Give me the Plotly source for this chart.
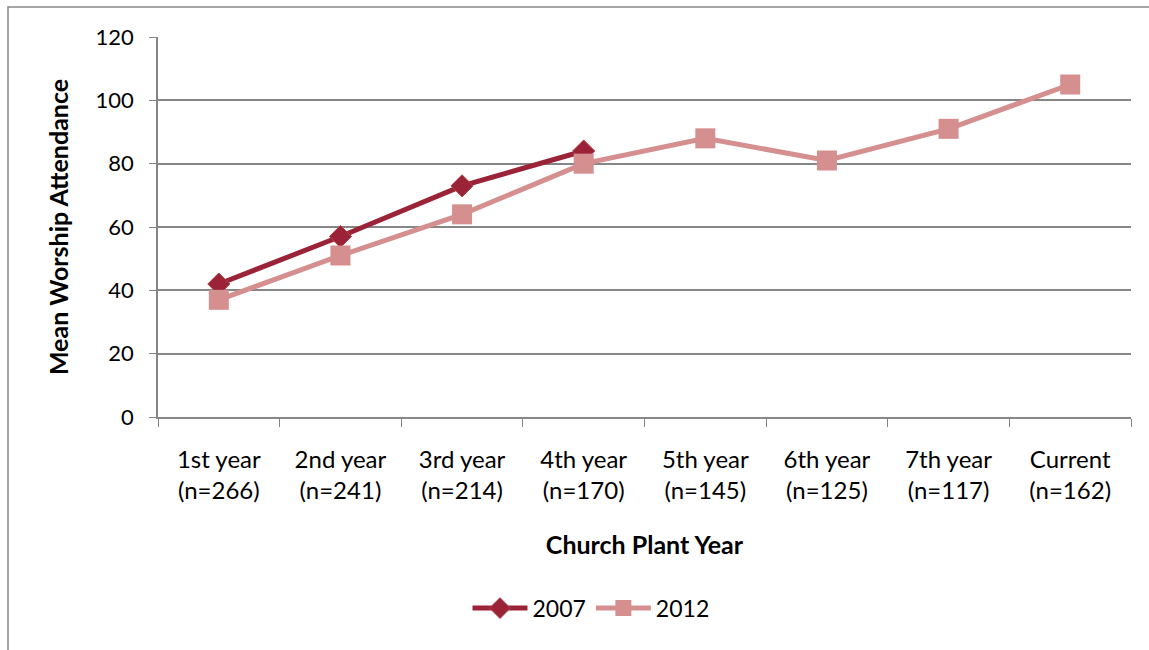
import plotly.graph_objects as go

categories = ["1st year<br>(n=266)", "2nd year<br>(n=241)", "3rd year<br>(n=214)", "4th year<br>(n=170)",
              "5th year<br>(n=145)", "6th year<br>(n=125)", "7th year<br>(n=117)", "Current<br>(n=162)"]
values_2007 = [42, 57, 73, 84]
values_2012 = [37, 51, 64, 80, 88, 81, 91, 105]

c2007 = "#9B2338"
c2012 = "#D48F8E"
font_family = "Lato, 'Open Sans', sans-serif"

fig = go.Figure()
fig.add_trace(go.Scatter(
    x=categories[:len(values_2007)], y=values_2007, name="2007", mode="lines+markers",
    line=dict(color=c2007, width=5),
    marker=dict(symbol="diamond", size=17, color=c2007, line=dict(color="#B2403F", width=1)),
))
fig.add_trace(go.Scatter(
    x=categories, y=values_2012, name="2012", mode="lines+markers",
    line=dict(color=c2012, width=5),
    marker=dict(symbol="square", size=20, color=c2012),
))

fig.update_layout(
    width=1149, height=650,
    margin=dict(l=158, r=18, t=37, b=233),
    paper_bgcolor="white", plot_bgcolor="white",
    font=dict(family=font_family, size=22, color="black"),
    showlegend=True,
    legend=dict(orientation="h", x=0.445, xanchor="center", y=-0.503, yanchor="middle",
                font=dict(size=23), itemwidth=55),
    xaxis=dict(
        type="category", categoryorder="array", categoryarray=categories,
        range=[-0.5, 7.5], showgrid=False,
        showline=True, linecolor="#868686", linewidth=1.5,
        ticks="outside", tickson="boundaries", ticklen=8, tickcolor="#868686",
        ticklabelstandoff=20,
        tickfont=dict(size=24), title=dict(text="<b>Church Plant Year</b>", font=dict(size=25), standoff=34),
    ),
    yaxis=dict(
        range=[0, 120], dtick=20, showgrid=True, gridcolor="#868686", gridwidth=1.5,
        showline=True, linecolor="#868686", linewidth=1.5,
        ticks="outside", ticklen=7, tickcolor="#868686",
        ticklabelstandoff=11,
        tickfont=dict(size=22), zeroline=False,
        title=dict(text="<b>Mean Worship Attendance</b>", font=dict(size=25), standoff=20),
    ),
)

# outer chart frame (left and top edges visible)
fig.add_shape(type="rect", xref="paper", yref="paper",
              x0=(8 - 158) / 973, x1=1.2, y0=-1.0, y1=1 + 30 / 380,
              line=dict(color="#878787", width=1.5), layer="below")

fig.write_html("out.html", config={"displayModeBar": False},
               post_script="document.body.style.margin='0';document.body.style.overflow='hidden';")
